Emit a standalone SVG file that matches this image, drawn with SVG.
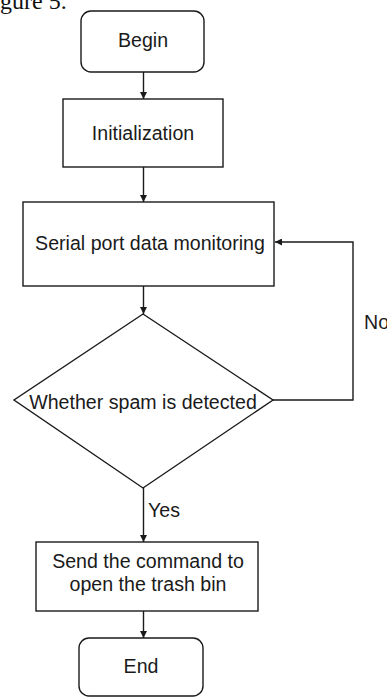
<svg xmlns="http://www.w3.org/2000/svg" width="387" height="698" viewBox="0 0 387 698">
<defs>
<marker id="ah" viewBox="0 0 10 10" refX="10" refY="5" markerWidth="7" markerHeight="7" markerUnits="userSpaceOnUse" orient="auto">
<path d="M0,0 L10,5 L0,10 Z" fill="#1a1a1a"/>
</marker>
<style>
.box{fill:#fff;stroke:#1a1a1a;stroke-width:1.4}
.t{font-family:"Liberation Sans",Arial,sans-serif;font-size:19.6px;fill:#1a1a1a;text-anchor:middle}
.lbl{font-family:"Liberation Sans",Arial,sans-serif;font-size:19.6px;fill:#1a1a1a}
.c{fill:none;stroke:#1a1a1a;stroke-width:1.4}
</style>
</defs>
<rect width="387" height="698" fill="#fff"/>
<text x="0" y="9" font-family="'Liberation Serif','Times New Roman',serif" font-size="24" fill="#111">gure 5.</text>
<g id="begin"><rect class="box" x="81" y="11" width="123" height="61" rx="10"/><text class="t" x="143" y="47">Begin</text></g>
<g id="init"><rect class="box" x="63" y="99" width="160" height="68"/><text class="t" x="143" y="140">Initialization</text></g>
<g id="serial"><rect class="box" x="23" y="202" width="251" height="84"/><text class="t" x="150" y="250">Serial port data monitoring</text></g>
<g id="decision"><polygon class="box" points="143,314 273,400 143,488 14,400"/><text class="t" x="143" y="409">Whether spam is detected</text></g>
<g id="send"><rect class="box" x="36" y="542" width="222" height="69"/><text class="t" x="148" y="568">Send the command to</text><text class="t" x="148" y="591">open the trash bin</text></g>
<g id="end"><rect class="box" x="79" y="638" width="124" height="58" rx="10"/><text class="t" x="141" y="673">End</text></g>
<g id="connectors">
<line class="c" x1="143.5" y1="72" x2="143.5" y2="99" marker-end="url(#ah)"/>
<line class="c" x1="143.5" y1="167" x2="143.5" y2="202" marker-end="url(#ah)"/>
<line class="c" x1="143.5" y1="286" x2="143.5" y2="314" marker-end="url(#ah)"/>
<polyline class="c" points="273,400 353,400 353,242 275,242" marker-end="url(#ah)"/>
<line class="c" x1="143.5" y1="488" x2="143.5" y2="542" marker-end="url(#ah)"/>
<line class="c" x1="143.5" y1="611" x2="143.5" y2="638" marker-end="url(#ah)"/>
<text class="lbl" x="364" y="329">No</text>
<text class="lbl" x="148" y="517">Yes</text>
</g>
</svg>
